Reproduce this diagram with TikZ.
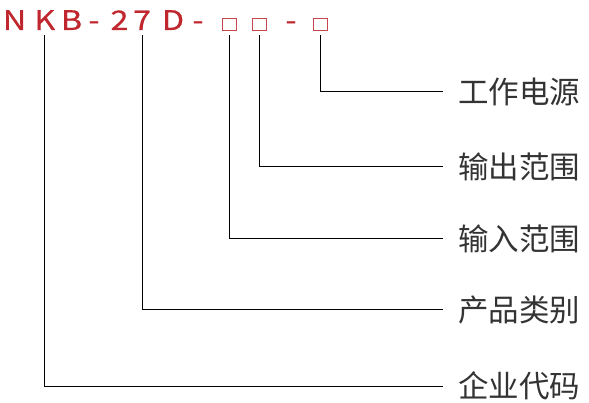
\documentclass[tikz,border=0pt]{standalone}
\usepackage{fontspec}
\setmainfont{Noto Sans CJK SC}
\newfontfamily\codefont[FakeStretch=1.2,FakeBold=0.5]{Noto Sans CJK SC}
\usetikzlibrary{positioning}
\definecolor{codered}{HTML}{C0262D}
\definecolor{labelgray}{HTML}{333333}

\begin{document}
\begin{tikzpicture}[
    x=1pt, y=1pt,
    codechar/.style={text=codered, font=\codefont\fontsize{27}{27}\selectfont,
                 inner sep=0pt, text depth=0pt, outer ysep=5pt, anchor=base},
    codebox/.style={draw=codered!85, line width=1pt, inner sep=0pt,
                 minimum width=14pt, minimum height=12pt, outer ysep=4pt},
    partlabel/.style={text=labelgray, font=\fontsize{30.5}{30.5}\selectfont,
                 anchor=west, inner xsep=15pt, inner ysep=0pt},
    lead/.style={line width=1pt, black}
  ]
  \useasboundingbox (0,0) rectangle (589,-403);

  % model code
  \node[codechar] (n) at (14.5,-30) {N};
  \node[codechar] (k) at (44.8,-30) {K};
  \node[codechar] (b) at (71.5,-30) {B};
  \node[codechar] (dasha) at (94,-30) {-};
  \node[codechar] (two) at (119.5,-30) {2};
  \node[codechar] (seven) at (142,-30) {7};
  \node[codechar] (d) at (173,-30) {D};
  \node[codechar] (dashb) at (198,-30) {-};
  \node[codebox] (boxa) at (229.3,-25) {};
  \node[codebox] (boxb) at (259.3,-25) {};
  \node[codechar] (dashc) at (291,-30) {-};
  \node[codebox] (boxc) at (320.8,-25) {};

  % part names
  \node[partlabel] (power) at (443,-92) {工作电源};
  \node[partlabel] (outrange) at (443,-167) {输出范围};
  \node[partlabel] (inrange) at (443,-239) {输入范围};
  \node[partlabel] (category) at (443,-310) {产品类别};
  \node[partlabel] (company) at (443,-386) {企业代码};

  \draw[lead] (boxc.south) |- (power.west);
  \draw[lead] (boxb.south) |- (outrange.west);
  \draw[lead] (boxa.south) |- (inrange.west);
  \draw[lead] (seven.south) |- (category.west);
  \draw[lead] (k.south) |- (company.west);

\end{tikzpicture}
\end{document}
